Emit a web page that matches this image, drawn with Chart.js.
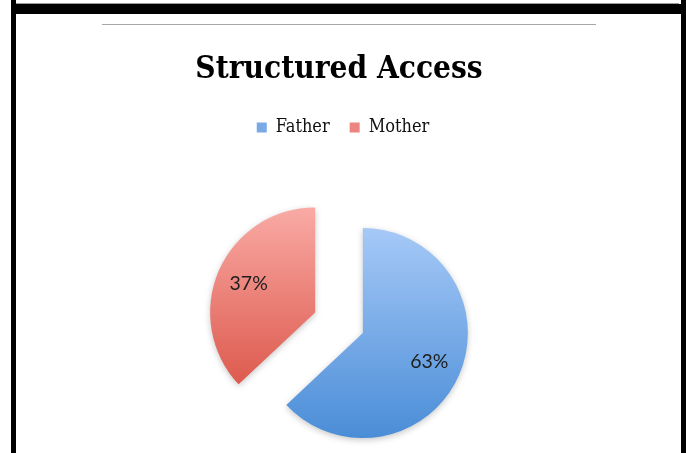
<!DOCTYPE html>
<html>
<head>
<meta charset="utf-8">
<script src="https://cdn.jsdelivr.net/npm/chart.js@4.4.1/dist/chart.umd.min.js"></script>
<style>
  html, body { margin: 0; padding: 0; }
  body { width: 686px; height: 453px; overflow: hidden; position: relative; background: #fff; }
  .blk { position: absolute; background: #000; }
  .rule { position: absolute; left: 102px; top: 24px; width: 494px; height: 1px; background: #a6a6a6; }
  .topline { position: absolute; left: 16px; top: 3px; width: 663px; height: 1px; background: #9a9a9a; }
  #wrap { position: absolute; left: 16px; top: 14px; width: 646px; height: 485px; }
</style>
</head>
<body>
<div class="topline"></div>
<div class="blk" style="left:11px; top:0; width:5px; height:453px;"></div>
<div class="blk" style="left:11px; top:4px; width:675px; height:10px;"></div>
<div class="blk" style="left:681px; top:0; width:5px; height:453px;"></div>
<div class="rule"></div>
<div id="wrap"><canvas id="pie"></canvas></div>
<script>
const categories = ['Father', 'Mother'];
const shares = [63, 37];
const topColors = ['#a6c9f7', '#f9aaa5'];
const bottomColors = ['#4a8dd7', '#d84b3d'];
const legendColors = ['#7aaae6', '#ec8580'];

const pieRadius = 105;
const explode = 104;
const serif = "'DejaVu Serif Condensed', 'Liberation Serif', serif";

// Chart.js grows an offset arc's radius and trims its angle; undo that so the
// exploded slices keep the same radius and full sweep
const explodePlugin = {
  id: 'explodeFix',
  afterLayout(chart) {
    // legend sits a few px right of the title centre in the original
    chart.legend.left += 4;
    chart.legend.right += 4;
  },
  afterDatasetsUpdate(chart) {
    chart.getDatasetMeta(0).data.forEach((arc) => {
      const off = (arc.options.offset || 0) / 4;
      const fix = 1 - Math.sin(Math.min(Math.PI, arc.circumference));
      const ro = off * fix;
      arc.outerRadius = pieRadius - ro;
      const trim = (ro / Math.PI) / pieRadius / 2;
      arc.startAngle -= trim;
      arc.endAngle += trim;
    });
  }
};

// soft shadow under the slices
const shadowPlugin = {
  id: 'shadow',
  beforeDatasetsDraw(chart) {
    const ctx = chart.ctx;
    ctx.save();
    ctx.shadowColor = 'rgba(0,0,0,0.22)';
    ctx.shadowBlur = 6;
    ctx.shadowOffsetY = 2;
  },
  afterDatasetsDraw(chart) {
    chart.ctx.restore();
  }
};

// percentage labels inside each exploded slice
const pctPlugin = {
  id: 'pct',
  afterDatasetsDraw(chart) {
    const ctx = chart.ctx;
    const meta = chart.getDatasetMeta(0);
    const values = chart.data.datasets[0].data;
    const total = values.reduce((a, b) => a + b, 0);
    ctx.save();
    ctx.font = '19.5px Lato, sans-serif';
    ctx.fillStyle = '#1e1e1e';
    ctx.textAlign = 'center';
    ctx.textBaseline = 'middle';
    meta.data.forEach((arc, i) => {
      const off = (arc.options.offset || 0) / 4;
      const half = (arc.startAngle + arc.endAngle) / 2;
      const r = pieRadius * 0.69 + off;
      const x = arc.x + Math.cos(half) * r;
      const y = arc.y + Math.sin(half) * r;
      ctx.fillText(Math.round(values[i] / total * 100) + '%', x, y);
    });
    ctx.restore();
  }
};

new Chart(document.getElementById('pie'), {
  type: 'pie',
  data: {
    labels: categories,
    datasets: [{
      data: shares,
      backgroundColor: (c) => {
        const area = c.chart.chartArea;
        if (!area) return legendColors[c.dataIndex];
        const cy = (area.top + area.bottom) / 2;
        const g = c.chart.ctx.createLinearGradient(0, cy - pieRadius, 0, cy + pieRadius);
        g.addColorStop(0, topColors[c.dataIndex]);
        g.addColorStop(1, bottomColors[c.dataIndex]);
        return g;
      },
      borderWidth: 0,
      offset: explode
    }]
  },
  options: {
    responsive: true,
    maintainAspectRatio: false,
    animation: false,
    radius: pieRadius,
    layout: { padding: 0 },
    plugins: {
      title: {
        display: true,
        text: 'Structured Access',
        color: '#000',
        font: { family: serif, size: 31.3, weight: 'bold' },
        padding: { top: 37, bottom: 10 }
      },
      legend: {
        position: 'top',
        labels: {
          color: '#111',
          font: { family: serif, size: 18 },
          boxWidth: 10,
          boxHeight: 10,
          padding: 20,
          generateLabels: (chart) => Chart.overrides.pie.plugins.legend.labels.generateLabels(chart)
            .map((l, i) => ({ ...l, fillStyle: legendColors[i], strokeStyle: legendColors[i], lineWidth: 0 }))
        }
      },
      tooltip: { enabled: false }
    }
  },
  plugins: [explodePlugin, shadowPlugin, pctPlugin]
});
</script>
</body>
</html>
